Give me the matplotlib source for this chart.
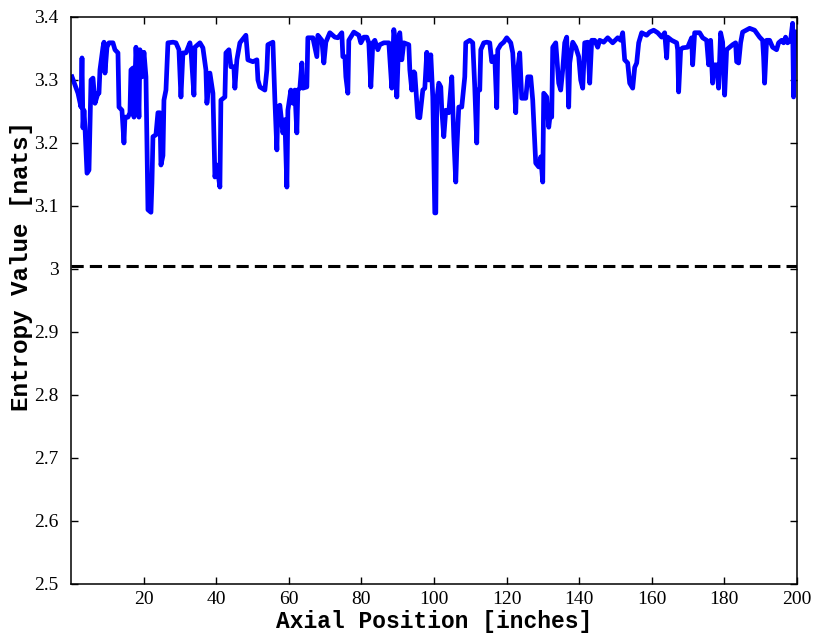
import matplotlib
matplotlib.use('Agg')
import matplotlib.pyplot as plt
import numpy as np

# axial position along the pipe [inches]
position = [
    0.28, 1.93, 2.75, 3.03, 3.30, 3.58, 3.85, 4.41, 4.96, 5.51,
    6.06, 6.61, 7.43, 7.71, 7.98, 8.81, 9.09, 9.36, 9.91, 10.46,
    11.56, 12.11, 12.94, 13.22, 14.04, 14.59, 14.87, 15.69, 16.24, 16.52,
    17.07, 17.35, 17.90, 18.45, 18.72, 19.00, 19.55, 20.10, 20.65, 21.20,
    22.03, 22.30, 22.58, 23.40, 23.95, 24.50, 24.78, 25.33, 25.61, 26.16,
    26.71, 28.08, 28.91, 29.74, 30.29, 30.84, 31.66, 32.76, 33.04, 33.87,
    34.14, 35.52, 36.34, 37.17, 37.44, 38.27, 39.10, 39.65, 40.20, 41.02,
    41.30, 42.40, 42.68, 43.50, 44.05, 44.88, 45.15, 45.70, 46.53, 47.08,
    48.18, 48.73, 50.11, 51.21, 51.50, 52.04, 53.41, 53.96, 54.24, 55.62,
    56.17, 56.72, 56.99, 57.54, 58.37, 58.92, 59.47, 59.75, 60.57, 61.12,
    61.67, 62.22, 62.50, 63.05, 63.60, 63.88, 64.98, 65.25, 66.63, 67.18,
    67.73, 68.01, 69.11, 69.66, 70.21, 71.31, 72.69, 73.51, 74.61, 74.89,
    75.45, 75.72, 76.27, 76.54, 77.92, 79.30, 79.85, 80.67, 81.50, 82.05,
    82.60, 83.15, 83.70, 84.53, 85.08, 86.18, 87.56, 88.38, 88.93, 89.21,
    89.76, 90.31, 90.58, 91.13, 91.68, 93.06, 93.34, 93.89, 94.44, 94.71,
    95.54, 96.09, 96.92, 97.47, 98.02, 98.57, 99.12, 99.67, 100.22, 100.50,
    100.77, 101.32, 101.87, 102.15, 102.70, 103.25, 104.07, 104.90, 105.45, 106.00,
    106.28, 106.83, 107.65, 108.48, 108.75, 109.86, 110.68, 111.23, 111.78, 112.06,
    112.61, 112.89, 113.71, 114.54, 115.36, 115.91, 116.74, 117.29, 117.57, 118.39,
    119.22, 120.04, 121.15, 121.70, 122.52, 122.80, 123.62, 124.17, 125.28, 125.83,
    126.65, 127.20, 128.03, 128.85, 129.41, 129.96, 130.23, 131.06, 131.61, 132.16,
    132.43, 132.71, 133.54, 134.36, 134.91, 135.46, 136.01, 136.56, 137.11, 137.39,
    138.22, 139.04, 139.87, 140.42, 140.97, 141.52, 142.35, 142.90, 143.45, 144.27,
    145.10, 145.65, 146.75, 147.85, 149.23, 150.61, 151.43, 151.98, 152.53, 153.36,
    153.91, 154.74, 155.29, 155.84, 156.39, 157.21, 158.59, 159.42, 160.52, 161.62,
    162.72, 163.55, 164.10, 164.37, 165.47, 166.85, 167.13, 167.40, 167.95, 168.50,
    169.88, 170.98, 171.26, 171.81, 173.18, 174.01, 175.11, 175.66, 176.21, 176.76,
    177.04, 177.86, 178.41, 178.96, 179.52, 180.07, 180.62, 181.44, 182.27, 183.09,
    183.37, 183.92, 184.47, 185.02, 186.95, 188.33, 189.70, 190.53, 190.80, 191.08,
    191.63, 192.46, 193.28, 194.38, 194.93, 195.76, 196.31, 196.86, 197.41, 198.24,
    198.79, 199.06, 199.34, 199.89,
]

# entropy of each window [nats]
entropy = [
    3.305, 3.279, 3.257, 3.335, 3.224, 3.252, 3.225, 3.152, 3.157, 3.300,
    3.303, 3.263, 3.279, 3.279, 3.316, 3.352, 3.360, 3.311, 3.352, 3.359,
    3.359, 3.348, 3.343, 3.257, 3.252, 3.200, 3.241, 3.241, 3.248, 3.316,
    3.319, 3.241, 3.352, 3.289, 3.241, 3.348, 3.305, 3.344, 3.305, 3.094,
    3.090, 3.136, 3.210, 3.213, 3.248, 3.248, 3.165, 3.180, 3.268, 3.284,
    3.359, 3.360, 3.359, 3.348, 3.273, 3.343, 3.343, 3.359, 3.348, 3.276,
    3.352, 3.359, 3.351, 3.316, 3.263, 3.311, 3.279, 3.146, 3.165, 3.130,
    3.268, 3.273, 3.343, 3.348, 3.321, 3.321, 3.287, 3.332, 3.359, 3.363,
    3.371, 3.332, 3.329, 3.332, 3.300, 3.289, 3.284, 3.316, 3.356, 3.360,
    3.268, 3.189, 3.257, 3.260, 3.216, 3.237, 3.130, 3.252, 3.284, 3.263,
    3.284, 3.216, 3.284, 3.287, 3.327, 3.287, 3.289, 3.367, 3.367, 3.352,
    3.337, 3.371, 3.363, 3.327, 3.360, 3.375, 3.368, 3.367, 3.375, 3.337,
    3.337, 3.305, 3.279, 3.363, 3.376, 3.371, 3.359, 3.368, 3.368, 3.359,
    3.289, 3.359, 3.363, 3.348, 3.356, 3.359, 3.359, 3.287, 3.380, 3.368,
    3.273, 3.368, 3.375, 3.332, 3.359, 3.356, 3.316, 3.284, 3.313, 3.311,
    3.241, 3.240, 3.284, 3.287, 3.344, 3.300, 3.340, 3.273, 3.089, 3.089,
    3.268, 3.295, 3.289, 3.252, 3.210, 3.252, 3.248, 3.305, 3.210, 3.138,
    3.189, 3.257, 3.257, 3.305, 3.359, 3.363, 3.359, 3.289, 3.200, 3.284,
    3.284, 3.348, 3.359, 3.360, 3.359, 3.329, 3.337, 3.256, 3.348, 3.356,
    3.360, 3.367, 3.359, 3.343, 3.248, 3.305, 3.343, 3.271, 3.271, 3.305,
    3.305, 3.268, 3.168, 3.162, 3.178, 3.138, 3.279, 3.273, 3.225, 3.252,
    3.241, 3.352, 3.359, 3.295, 3.284, 3.316, 3.359, 3.368, 3.257, 3.327,
    3.360, 3.352, 3.337, 3.300, 3.287, 3.359, 3.360, 3.295, 3.363, 3.363,
    3.352, 3.363, 3.360, 3.367, 3.359, 3.367, 3.363, 3.375, 3.332, 3.327,
    3.295, 3.287, 3.320, 3.327, 3.359, 3.375, 3.371, 3.376, 3.379, 3.375,
    3.368, 3.375, 3.335, 3.368, 3.363, 3.359, 3.348, 3.281, 3.348, 3.351,
    3.352, 3.367, 3.324, 3.375, 3.375, 3.367, 3.363, 3.324, 3.363, 3.295,
    3.324, 3.324, 3.287, 3.375, 3.360, 3.276, 3.348, 3.352, 3.356, 3.359,
    3.329, 3.327, 3.359, 3.376, 3.382, 3.379, 3.368, 3.363, 3.337, 3.295,
    3.363, 3.363, 3.352, 3.348, 3.359, 3.363, 3.359, 3.368, 3.359, 3.363,
    3.390, 3.273, 3.360, 3.376,
]

threshold = 3.005
x_ticks = [20, 40, 60, 80, 100, 120, 140, 160, 180, 200]
y_ticks = [2.5, 2.6, 2.7, 2.8, 2.9, 3.0, 3.1, 3.2, 3.3, 3.4]
y_tick_labels = ['2.5', '2.6', '2.7', '2.8', '2.9', '3', '3.1', '3.2', '3.3', '3.4']

fig = plt.figure(figsize=(8.16, 6.36), dpi=100)
ax = fig.add_axes([0.087, 0.0818, 0.8897, 0.8915])

ax.plot(position, entropy, color='#0000ff', lw=3.4, solid_joinstyle='round')
ax.axhline(threshold, color='black', lw=2.2, linestyle=(0, (4, 2)))

ax.set_xlim(0, 200)
ax.set_ylim(2.5, 3.4)
ax.set_xticks(x_ticks)
ax.set_yticks(y_ticks)
ax.set_yticklabels(y_tick_labels)

for lbl in ax.get_xticklabels() + ax.get_yticklabels():
    lbl.set_fontfamily('Liberation Serif')
    lbl.set_fontsize(14)

ax.tick_params(direction='in', length=5, width=1, top=True, right=True)
ax.tick_params(axis='y', pad=9)
ax.tick_params(axis='x', pad=5)
for sp in ax.spines.values():
    sp.set_linewidth(1.1)

ax.set_xlabel('Axial Position [inches]', family='Liberation Mono',
              fontweight='bold', fontsize=16.5)
ax.set_ylabel('Entropy Value [nats]', family='Liberation Mono',
              fontweight='bold', fontsize=17.5)
ax.xaxis.set_label_coords(0.5, -0.067)
ax.yaxis.set_label_coords(-0.068, 0.561)
ax.xaxis.label.set_va('center')
ax.yaxis.label.set_va('center')

fig.savefig('out.png', dpi=100)
